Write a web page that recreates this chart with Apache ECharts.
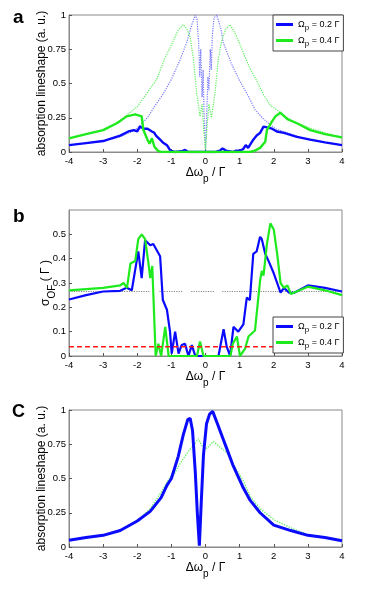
<!DOCTYPE html>
<html>
<head>
<meta charset="utf-8">
<script src="https://cdn.jsdelivr.net/npm/echarts@6/dist/echarts.min.js"></script>
<style>
html,body{margin:0;padding:0;background:#fff;}
#chart{width:375px;height:596px;}
</style>
</head>
<body>
<div id="chart"></div>
<script>
// tick labels
var xTicks=[-4,-3,-2,-1,0,1,2,3,4];
var names=['Ω_p = 0.2 Γ','Ω_p = 0.4 Γ'];

// panel a : absorption lineshape, Omega_p = 0.2 (blue) / 0.4 (green)
var aBlue=[[-4,0.05],[-3.5,0.065],[-3,0.08],[-2.5,0.12],[-2.26,0.15],[-2.1,0.16],[-2,0.15],[-1.92,0.185],[-1.8,0.17],[-1.7,0.17],[-1.57,0.15],[-1.5,0.14],[-1.45,0.12],[-1.4,0.13],[-1.33,0.09],[-1.25,0.07],[-1.2,0.08],[-1.13,0.05],[-1.08,0.05],[-1.03,0.01],[-0.9,0],[-0.7,0.005],[-0.6,0.015],[-0.5,0],[-0.3,0],[0,0],[0.3,0],[0.42,0.01],[0.5,0.025],[0.6,0.01],[0.8,0],[0.9,0.01],[1,0.01],[1.1,0.02],[1.18,0.05],[1.25,0.03],[1.3,0.04],[1.4,0.09],[1.5,0.12],[1.6,0.14],[1.7,0.185],[1.8,0.18],[1.95,0.17],[2.09,0.15],[2.3,0.14],[2.68,0.11],[3.07,0.09],[3.5,0.07],[4,0.05]];
var aGreen=[[-4,0.1],[-3.5,0.13],[-3,0.16],[-2.6,0.21],[-2.31,0.26],[-2.06,0.275],[-1.87,0.26],[-1.82,0.16],[-1.7,0.09],[-1.64,0.06],[-1.57,0.1],[-1.5,0.04],[-1.4,0.01],[-1.3,0],[0,0],[1.3,0],[1.45,0.01],[1.6,0.03],[1.75,0.075],[1.8,0.16],[1.94,0.22],[2.05,0.26],[2.19,0.287],[2.4,0.24],[2.68,0.21],[3.07,0.16],[3.5,0.13],[4,0.107]];
var aBlueDot=[[-4,0.05],[-3,0.08],[-2.5,0.11],[-2.06,0.16],[-1.7,0.25],[-1.5,0.33],[-1.25,0.42],[-1,0.53],[-0.75,0.67],[-0.55,0.8],[-0.4,0.93],[-0.3,1],[-0.25,0.97],[-0.2,0.8],[-0.17,0.55],[-0.14,0.75],[-0.1,0.4],[-0.07,0.6],[-0.04,0.25],[0,0],[0.04,0.3],[0.07,0.55],[0.1,0.45],[0.14,0.75],[0.17,0.6],[0.2,0.85],[0.25,0.98],[0.33,1],[0.45,0.9],[0.52,0.8],[0.75,0.65],[1,0.52],[1.25,0.41],[1.45,0.31],[1.7,0.24],[1.9,0.2],[2.05,0.17],[2.5,0.13],[3,0.09],[3.5,0.07],[4,0.05]];
var aGreenDot=[[-4,0.1],[-3,0.16],[-2.5,0.22],[-2.26,0.28],[-2,0.33],[-1.8,0.4],[-1.6,0.47],[-1.43,0.53],[-1.2,0.68],[-1,0.78],[-0.8,0.89],[-0.65,0.93],[-0.55,0.9],[-0.45,0.84],[-0.35,0.67],[-0.26,0.43],[-0.16,0.26],[-0.1,0.35],[-0.05,0.15],[0,0.02],[0.05,0.2],[0.1,0.35],[0.17,0.25],[0.28,0.43],[0.37,0.67],[0.48,0.82],[0.6,0.9],[0.72,0.93],[0.9,0.85],[1.1,0.73],[1.3,0.61],[1.5,0.52],[1.7,0.42],[1.9,0.34],[2.19,0.29],[2.5,0.23],[3,0.18],[3.5,0.14],[4,0.1]];

// panel b : sigma_OF
var bBlue=[[-4,0.232],[-3.5,0.25],[-3,0.265],[-2.5,0.268],[-2.31,0.28],[-2.16,0.27],[-1.97,0.43],[-1.87,0.32],[-1.77,0.476],[-1.62,0.455],[-1.53,0.46],[-1.33,0.41],[-1.25,0.23],[-1.13,0.19],[-1.04,0.1],[-0.99,0.01],[-0.89,0.1],[-0.79,0.01],[-0.7,0.045],[-0.6,0.05],[-0.5,0],[-0.4,0.045],[-0.3,0],[0.38,0],[0.53,0.11],[0.62,0.04],[0.72,0],[0.82,0.12],[0.96,0.1],[1.11,0.13],[1.21,0.24],[1.3,0.23],[1.4,0.42],[1.5,0.43],[1.6,0.49],[1.65,0.48],[1.75,0.42],[1.85,0.39],[2,0.34],[2.1,0.3],[2.2,0.26],[2.3,0.28],[2.45,0.26],[2.6,0.26],[3,0.29],[3.5,0.28],[4,0.265]];
var bGreen=[[-4,0.27],[-3.5,0.275],[-3,0.28],[-2.5,0.29],[-2.4,0.3],[-2.3,0.28],[-2.2,0.38],[-2.06,0.39],[-1.97,0.48],[-1.87,0.5],[-1.77,0.48],[-1.67,0.38],[-1.62,0.32],[-1.56,0.37],[-1.46,0],[-1.38,0.05],[-1.3,0],[-1.18,0.12],[-1.08,0],[-0.25,0],[-0.16,0.06],[-0.06,0],[0.73,0],[0.8,0.05],[0.92,0.08],[1.01,0],[1.16,0.03],[1.26,0.08],[1.45,0.105],[1.6,0.31],[1.65,0.35],[1.7,0.33],[1.8,0.46],[1.9,0.545],[2,0.52],[2.1,0.42],[2.2,0.3],[2.3,0.28],[2.4,0.29],[2.5,0.255],[3,0.285],[3.5,0.27],[4,0.25]];
var bGray=[[-4,0.265],[-1.62,0.265],[-1.5,null],[-1.35,0.265],[-0.67,0.265],[-0.55,null],[-0.42,0.265],[0.25,0.265],[0.35,null],[0.49,0.265],[4,0.265]];
var bRed=[[-4,0.038],[4,0.038]];

// panel c
var cBlue=[[-4,0.05],[-3.5,0.07],[-3,0.085],[-2.5,0.12],[-2,0.19],[-1.62,0.26],[-1.3,0.36],[-1.13,0.45],[-1,0.5],[-0.8,0.66],[-0.65,0.82],[-0.52,0.93],[-0.45,0.94],[-0.38,0.85],[-0.3,0.55],[-0.24,0.25],[-0.18,0.01],[-0.12,0.35],[-0.06,0.67],[0.03,0.9],[0.12,0.97],[0.21,0.99],[0.35,0.9],[0.5,0.8],[0.62,0.72],[0.8,0.6],[1,0.49],[1.11,0.43],[1.31,0.34],[1.6,0.25],[2,0.16],[2.5,0.12],[3,0.085],[3.5,0.07],[4,0.045]];
var cGreenDot=[[-4,0.05],[-3,0.085],[-2.5,0.12],[-2,0.19],[-1.62,0.28],[-1.3,0.4],[-1.04,0.51],[-0.9,0.54],[-0.74,0.61],[-0.5,0.7],[-0.35,0.74],[-0.21,0.79],[-0.11,0.74],[0.04,0.72],[0.23,0.77],[0.37,0.74],[0.62,0.69],[0.82,0.6],[1.11,0.48],[1.31,0.37],[1.6,0.28],[2,0.2],[2.5,0.14],[3,0.09],[3.5,0.07],[4,0.045]];

var BLUE='#0a0aff',GREEN='#1eea1e',LBLUE='#7777ff',LGREEN='#5cf05c';
var font='Liberation Sans';
var rich={t:{fontSize:9,fontFamily:font,color:'#000'},s:{fontSize:8,fontFamily:font,color:'#000',padding:[7,0,0,0]}};
var nameRich={t:{fontSize:12,fontFamily:font,color:'#000'},s:{fontSize:10,fontFamily:font,color:'#000',padding:[12,0,0,0]}};

var grids=[{top:15,height:137},{top:210,height:146},{top:410,height:137}];
var yMax=[1,0.6,1],yInt=[0.25,0.1,0.25];
var yNames=['{t|absorption lineshape (a. u.)}','{t|σ}{s|OF}{t| ( Γ )}','{t|absorption lineshape (a. u.)}'];
var yGaps=[21,12,21];

function line(name,data,idx,color,w,type){
	return {type:'line',name:name,data:data,xAxisIndex:idx,yAxisIndex:idx,symbol:'none',
		itemStyle:{color:color},lineStyle:{color:color,width:w,type:type||'solid'},
		silent:true,animation:false,connectNulls:false};
}

var opt={
	backgroundColor:'#fff',
	grid:grids.map(function(g){return {left:69,right:33,top:g.top,height:g.height,show:true,borderColor:'#8a8a8a',borderWidth:1};}),
	xAxis:grids.map(function(g,i){return {type:'value',gridIndex:i,min:-4,max:4,interval:1,
		axisLine:{show:true,onZero:false,lineStyle:{color:'#8a8a8a'}},axisTick:{inside:true,length:3,lineStyle:{color:'#555'}},
		splitLine:{show:false},axisLabel:{color:'#000',fontSize:9.5,fontFamily:font,margin:4},
		name:'{t|Δω}{s|p}{t| / Γ}',nameLocation:'middle',nameGap:8,nameTextStyle:{rich:nameRich}};}),
	yAxis:grids.map(function(g,i){return {type:'value',gridIndex:i,min:0,max:yMax[i],interval:yInt[i],
		axisLine:{show:true,onZero:false,lineStyle:{color:'#8a8a8a'}},axisTick:{inside:true,length:3,lineStyle:{color:'#555'}},
		splitLine:{show:false},axisLabel:{color:'#000',fontSize:9.5,fontFamily:font,margin:3,showMaxLabel:i!==1},
		name:yNames[i],nameLocation:'middle',nameGap:yGaps[i],nameMoveOverlap:false,nameTextStyle:{rich:nameRich}};}),
	legend:[{top:15},{top:317}].map(function(l,i){return {show:true,left:273,top:l.top,orient:'vertical',
		data:names,icon:'rect',itemWidth:17,itemHeight:3,itemGap:4,padding:[5,4,3,3],
		borderColor:'#444',borderWidth:1,borderRadius:0,backgroundColor:'#fff',selectedMode:false,
		formatter:function(n){var p=n.split('_p');return '{t|'+p[0]+'}{s|p}{t|'+p[1]+'}';},
		textStyle:{rich:rich}};}),
	graphic:[
		{type:'text',left:13,top:8,style:{text:'a',font:'bold 19px "Liberation Sans"',fill:'#000'}},
		{type:'text',left:13,top:207,style:{text:'b',font:'bold 19px "Liberation Sans"',fill:'#000'}},
		{type:'text',left:12,top:403,style:{text:'C',font:'bold 18px "Liberation Sans"',fill:'#000'}}
	],
	series:[
		line('aBlueDot',aBlueDot,0,LBLUE,1.2,'dotted'),
		line('aGreenDot',aGreenDot,0,LGREEN,1.2,'dotted'),
		line(names[0],aBlue,0,BLUE,2.4),
		line(names[1],aGreen,0,GREEN,2.4),
		line('bGray',bGray,1,'#888',1.2,'dotted'),
		line(names[0],bBlue,1,BLUE,2.2),
		line(names[1],bGreen,1,GREEN,2.2),
		line('bRed',bRed,1,'#ff1a1a',1.6,[5,3]),
		line('cGreenDot',cGreenDot,2,LGREEN,1.3,'dotted'),
		line('cBlue',cBlue,2,BLUE,3)
	]
};
var y=echarts.init(document.getElementById('chart'));
y.setOption(opt);
window.addEventListener('resize',function(){y.resize();});
</script>
</body>
</html>
